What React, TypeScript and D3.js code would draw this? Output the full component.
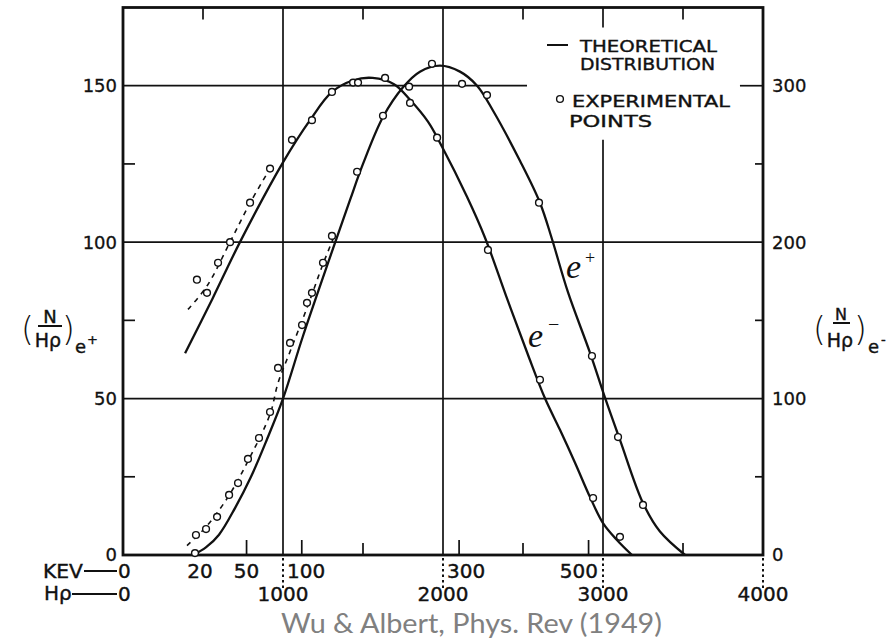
import React from "react";
import * as d3 from "d3";

// ---- data (Hρ in gauss·cm, N/Hρ in arbitrary units) ----
const hrhoTicks = [0, 1000, 2000, 3000, 4000];
const hrhoMinorTop = [500, 1500, 2500, 3500];
const hrhoMinorBottom = [1500, 2500, 3500];
const kevLabels = [0, 20, 50, 100, 300, 500];
const kevTicks = [50, 100, 300, 500];
const leftTicks = [0, 50, 100, 150];
const rightTicks = [0, 100, 200, 300];
const leftMinor = [25, 75, 125];

// e+ (left axis) theoretical curve [Hρ, N]
const ePlusTheory: [number, number][] = [
  [440, 0], [520, 2.5], [600, 6.5], [700, 15], [800, 25], [900, 37], [1000, 50], [1125, 70],
  [1313, 98], [1419, 113.5], [1500, 125], [1625, 140], [1750, 149.5],
  [1856, 154.5], [1981, 156.4], [2106, 154.5], [2213, 150], [2313, 142],
  [2481, 126], [2606, 112.6], [2681, 101], [2781, 84], [2919, 64.6],
  [3013, 50.2], [3106, 36.8], [3250, 16.6], [3356, 7.5], [3513, 0],
];
const ePlusDashed: [number, number][] = [
  [400, 3], [519, 9], [656, 18.5], [781, 30], [919, 45], [969, 55],
  [1044, 65], [1150, 79], [1250, 93], [1313, 101],
];
const ePlusPoints: [number, number][] = [
  [450, 0.6], [456, 6.4], [519, 8.3], [588, 12.2], [663, 19.2], [719, 23],
  [781, 30.7], [850, 37.4], [919, 45.7], [969, 59.8], [1044, 67.8],
  [1119, 73.5], [1150, 80.6], [1181, 83.8], [1250, 93.4], [1306, 102],
  [1463, 122.5], [1625, 140.4], [1788, 149.7], [1931, 157], [2119, 150.6],
  [2275, 147], [2600, 112.6], [2931, 63.6], [3094, 37.7], [3250, 16],
];

// e- (right axis) theoretical curve [Hρ, N]
const eMinusTheory: [number, number][] = [
  [388, 129], [560, 164], [731, 200], [1000, 251], [1169, 278], [1306, 296],
  [1440, 303.5], [1560, 305], [1694, 301], [1794, 291], [1906, 277],
  [1994, 261], [2150, 229], [2262, 203], [2400, 164], [2531, 128],
  [2638, 100], [2731, 80], [2825, 59], [2919, 37], [3000, 20.4],
  [3087, 9.6], [3181, 0],
];
const eMinusDashed: [number, number][] = [
  [406, 157], [525, 172], [669, 200], [794, 225], [919, 247],
];
const eMinusPoints: [number, number][] = [
  [462, 176], [525, 167.6], [594, 186.8], [669, 200], [794, 225.2],
  [919, 247], [1056, 265.4], [1181, 278], [1306, 296], [1438, 302],
  [1469, 302], [1638, 305], [1794, 289], [1963, 266.8], [2281, 195],
  [2606, 112], [2938, 36.4], [3106, 11.6],
];

const legendItems = ["THEORETICAL", "DISTRIBUTION", "EXPERIMENTAL", "POINTS"];
const caption = "Wu & Albert, Phys. Rev (1949)";

// kinetic energy (keV) -> Hρ (gauss·cm)
const hrhoFromKev = (t: number) => Math.sqrt(t * t + 2 * t * 511) * 3.3356;

export default function App() {
  const x = d3.scaleLinear().domain([0, 4000]).range([123, 763]);
  const yL = d3.scaleLinear().domain([0, 175]).range([555, 7.5]);
  const yR = d3.scaleLinear().domain([0, 350]).range([555, 7.5]);

  const curve = d3.curveCatmullRom.alpha(0.5);
  const lineL = d3.line<[number, number]>().x((d) => x(d[0])).y((d) => yL(d[1])).curve(curve);
  const lineR = d3.line<[number, number]>().x((d) => x(d[0])).y((d) => yR(d[1])).curve(curve);

  const x0 = x(0), x1 = x(4000), y0 = yL(0), yTop = yL(175);
  const ink = "#111";
  const font = "DejaVu Sans";

  const kevLabelNodes = kevLabels.map((k) => {
    const px = x(hrhoFromKev(k));
    let anchor: "middle" | "start" | "end" = "middle";
    let tx = px;
    for (const g of [1000, 2000, 3000]) {
      const gx = x(g);
      if (Math.abs(px - gx) < 25) {
        if (px > gx) { anchor = "start"; tx = gx + 4; }
        else { anchor = "end"; tx = gx - 5; }
      }
    }
    if (k === 0) { anchor = "start"; tx = px - 5; }
    return (
      <text key={"kev" + k} x={tx} y={578} textAnchor={anchor} fontSize={20} fill={ink} stroke={ink} strokeWidth={0.4}>
        {String(k)}
      </text>
    );
  });

  return (
    <svg width={892} height={643} style={{ position: "absolute", left: 0, top: 0 }} fontFamily={font}>
      <rect x={0} y={0} width={892} height={643} fill="#fff" />

      {/* grid lines */}
      <g stroke={ink} strokeWidth={1.7} fill="none">
        {[50, 100].map((v) => (
          <line key={"h" + v} x1={x0} x2={x1} y1={yL(v)} y2={yL(v)} />
        ))}
        <line x1={x0} x2={x(2525)} y1={yL(150)} y2={yL(150)} />
        <line x1={x(3856)} x2={x1} y1={yL(150)} y2={yL(150)} />
        {[1000, 2000].map((v) => (
          <line key={"v" + v} x1={x(v)} x2={x(v)} y1={yTop} y2={y0} />
        ))}
        <line x1={x(3000)} x2={x(3000)} y1={yL(132.7)} y2={y0} />
        <line x1={x(3000)} x2={x(3000)} y1={yTop} y2={yTop + 20} />
        {/* minor ticks */}
        {leftMinor.map((v) => (
          <g key={"m" + v}>
            <line x1={x0} x2={x0 + 12} y1={yL(v)} y2={yL(v)} />
            <line x1={x1 - 8} x2={x1} y1={yL(v)} y2={yL(v)} />
          </g>
        ))}
        {hrhoMinorTop.map((v) => (
          <line key={"t" + v} x1={x(v)} x2={x(v)} y1={yTop} y2={yTop + 12} />
        ))}
        {hrhoMinorBottom.map((v) => (
          <line key={"b" + v} x1={x(v)} x2={x(v)} y1={y0} y2={y0 - 12} />
        ))}
        {kevTicks.map((k) => (
          <line key={"k" + k} x1={x(hrhoFromKev(k))} x2={x(hrhoFromKev(k))} y1={y0} y2={y0 - 15} />
        ))}
        {/* dotted extensions below axis */}
        {hrhoTicks.slice(1).map((v) => (
          <line key={"d" + v} x1={x(v)} x2={x(v)} y1={y0 + 3} y2={y0 + 34} strokeDasharray="2.5,3" strokeWidth={2} />
        ))}
      </g>

      {/* frame */}
      <rect x={x0} y={yTop} width={x1 - x0} height={y0 - yTop} fill="none" stroke={ink} strokeWidth={2.8} />

      {/* curves */}
      <path d={lineL(ePlusTheory) || ""} fill="none" stroke={ink} strokeWidth={2.3} />
      <path d={lineR(eMinusTheory) || ""} fill="none" stroke={ink} strokeWidth={2.3} />
      <path d={lineL(ePlusDashed) || ""} fill="none" stroke={ink} strokeWidth={1.6} strokeDasharray="5,5" />
      <path d={lineR(eMinusDashed) || ""} fill="none" stroke={ink} strokeWidth={1.6} strokeDasharray="5,5" />

      {/* experimental points */}
      {ePlusPoints.map((d, i) => (
        <circle key={"p" + i} cx={x(d[0])} cy={yL(d[1])} r={3.4} fill="#fff" stroke={ink} strokeWidth={1.4} />
      ))}
      {eMinusPoints.map((d, i) => (
        <circle key={"n" + i} cx={x(d[0])} cy={yR(d[1])} r={3.4} fill="#fff" stroke={ink} strokeWidth={1.4} />
      ))}

      {/* left axis labels */}
      {leftTicks.map((v) => (
        <text key={"l" + v} x={117} y={yL(v) + (v === 0 ? 6 : 6.5)} textAnchor="end" fontSize={18} fill={ink} stroke={ink} strokeWidth={0.3}>
          {String(v)}
        </text>
      ))}
      {rightTicks.map((v) => (
        <text key={"r" + v} x={772} y={yR(v) + (v === 0 ? 6 : 6.5)} textAnchor="start" fontSize={18} fill={ink} stroke={ink} strokeWidth={0.3}>
          {String(v)}
        </text>
      ))}

      {/* bottom labels */}
      <text x={43} y={578} fontSize={20} fill={ink} stroke={ink} strokeWidth={0.4} textLength={40} lengthAdjust="spacingAndGlyphs">KEV</text>
      <line x1={84} x2={117} y1={571} y2={571} stroke={ink} strokeWidth={2.2} />
      {kevLabelNodes}
      <text x={44} y={600} fontSize={20} fill={ink} stroke={ink} strokeWidth={0.4}>Hρ</text>
      <line x1={72} x2={117} y1={594} y2={594} stroke={ink} strokeWidth={2.2} />
      {hrhoTicks.map((v) => (
        <text key={"hx" + v} x={v === 0 ? x(v) - 5 : x(v)} y={601} textAnchor={v === 0 ? "start" : "middle"} fontSize={20} fill={ink} stroke={ink} strokeWidth={0.4}>
          {String(v)}
        </text>
      ))}

      {/* axis titles */}
      <g fill={ink}>
        <text x={21} y={341} fontSize={33} fontWeight={300}>(</text>
        <text x={50} y={323} textAnchor="middle" fontSize={18} stroke={ink} strokeWidth={0.4}>N</text>
        <line x1={38} x2={62} y1={326} y2={326} stroke={ink} strokeWidth={2} />
        <text x={48} y={347} textAnchor="middle" fontSize={19} stroke={ink} strokeWidth={0.4}>Hρ</text>
        <text x={62} y={341} fontSize={33} fontWeight={300}>)</text>
        <text x={75} y={353} fontSize={18} stroke={ink} strokeWidth={0.4}>e</text>
        <text x={87} y={344} fontSize={13} stroke={ink} strokeWidth={0.4}>+</text>

        <text x={813} y={341} fontSize={33} fontWeight={300}>(</text>
        <text x={841} y={320} textAnchor="middle" fontSize={16} stroke={ink} strokeWidth={0.4}>N</text>
        <line x1={833} x2={850} y1={323} y2={323} stroke={ink} strokeWidth={2} />
        <text x={840} y={347} textAnchor="middle" fontSize={19} stroke={ink} strokeWidth={0.4}>Hρ</text>
        <text x={854} y={341} fontSize={33} fontWeight={300}>)</text>
        <text x={868} y={353} fontSize={18} stroke={ink} strokeWidth={0.4}>e</text>
        <text x={881} y={344} fontSize={13} stroke={ink} strokeWidth={0.4}>-</text>
      </g>

      {/* legend */}
      <line x1={547} x2={568} y1={45} y2={45} stroke={ink} strokeWidth={2} />
      <circle cx={560} cy={99} r={3.4} fill="#fff" stroke={ink} strokeWidth={1.4} />
      <g fontSize={15} fill={ink} stroke={ink} strokeWidth={0.35}>
        <text x={580} y={52} textLength={137} lengthAdjust="spacingAndGlyphs">{legendItems[0]}</text>
        <text x={580} y={70} textLength={135} lengthAdjust="spacingAndGlyphs">{legendItems[1]}</text>
        <text x={572} y={107} textLength={158} lengthAdjust="spacingAndGlyphs">{legendItems[2]}</text>
        <text x={569} y={127} textLength={83} lengthAdjust="spacingAndGlyphs">{legendItems[3]}</text>
      </g>

      {/* curve labels */}
      <text x={566} y={278} fontFamily="Liberation Serif" fontStyle="italic" fontSize={34} fill={ink}>e</text>
      <text x={585} y={264} fontFamily="Liberation Serif" fontSize={18} fill={ink}>+</text>
      <text x={528} y={347} fontFamily="Liberation Serif" fontStyle="italic" fontSize={34} fill={ink}>e</text>
      <text x={548} y={331} fontFamily="Liberation Serif" fontSize={20} fill={ink}>−</text>

      {/* caption */}
      <text x={281} y={633} fontFamily="Lato" fontSize={26} fill="#808080" textLength={381} lengthAdjust="spacingAndGlyphs">
        {caption}
      </text>
    </svg>
  );
}
